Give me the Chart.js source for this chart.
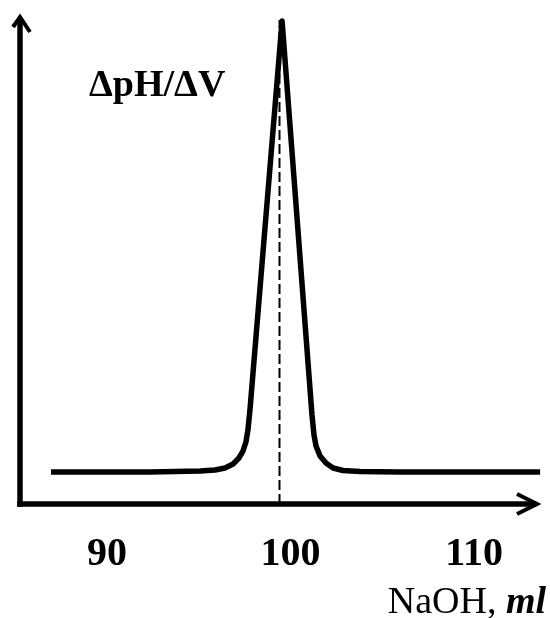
<!DOCTYPE html>
<html>
<head>
<meta charset="utf-8">
<script src="https://cdn.jsdelivr.net/npm/chart.js@4/dist/chart.umd.min.js"></script>
<style>
  html, body { margin: 0; padding: 0; background: #ffffff; }
  #wrap { width: 550px; height: 618px; position: relative; }
</style>
</head>
<body>
<div id="wrap"><canvas id="c"></canvas></div>
<script>
// NaOH volume (ml) and ΔpH/ΔV (relative units)
const volume = [86.95, 92.34, 95.07, 95.89, 96.43, 96.87, 97.19, 97.41, 97.57, 97.68, 97.79, 99.54,
                101.17, 101.28, 101.39, 101.61, 101.93, 102.32, 102.86, 103.79, 105.97, 111.42, 113.6];
const dpHdV  = [6.57, 6.57, 6.78, 6.98, 7.39, 8.21, 9.45, 10.88, 12.73, 15.2, 19.3, 99.2,
                18.28, 14.17, 11.91, 9.86, 8.42, 7.39, 6.88, 6.67, 6.57, 6.57, 6.57];
const equivalenceVolume = 99.4;
const equivalenceTop = 99.4;
const xTicks = [90, 100, 110];
const yLabel = 'ΔpH/ΔV';
const xLabelMain = 'NaOH, ';
const xLabelUnit = 'ml';

const curve = volume.map((v, i) => ({ x: v, y: dpHdV[i] }));
const dashed = [{ x: equivalenceVolume, y: 0 }, { x: equivalenceVolume, y: equivalenceTop }];

const axesPlugin = {
  id: 'axesArrows',
  afterDatasetsDraw(chart) {
    const ctx = chart.ctx;
    const a = chart.chartArea;
    ctx.save();
    ctx.strokeStyle = '#000';
    ctx.fillStyle = '#000';
    ctx.lineCap = 'butt';
    ctx.lineWidth = 5.5;
    // y axis
    ctx.beginPath();
    ctx.moveTo(a.left, a.bottom + 2.75);
    ctx.lineTo(a.left, a.top + 2);
    ctx.stroke();
    // x axis
    ctx.beginPath();
    ctx.moveTo(a.left - 2.75, a.bottom);
    ctx.lineTo(a.right - 14, a.bottom);
    ctx.stroke();
    // x arrow head
    ctx.lineWidth = 4;
    ctx.lineJoin = 'miter';
    ctx.beginPath();
    ctx.moveTo(a.right - 31, a.bottom - 10);
    ctx.lineTo(a.right - 11, a.bottom);
    ctx.lineTo(a.right - 31, a.bottom + 10);
    ctx.stroke();
    // y arrow head
    ctx.beginPath();
    ctx.moveTo(a.left - 7, a.top + 10);
    ctx.lineTo(a.left, a.top);
    ctx.lineTo(a.left + 10, a.top + 15);
    ctx.stroke();

    // texts
    ctx.textBaseline = 'alphabetic';
    ctx.textAlign = 'left';
    ctx.font = 'bold 38px "Liberation Serif"';
    ctx.fillText(yLabel, 89, 96);

    ctx.font = '38px "Liberation Serif"';
    const w1 = ctx.measureText(xLabelMain).width;
    ctx.font = 'bold italic 38px "Liberation Serif"';
    const w2 = ctx.measureText(xLabelUnit).width;
    const right = 546;
    const base = 613;
    ctx.font = '38px "Liberation Serif"';
    ctx.fillText(xLabelMain, right - w1 - w2, base);
    ctx.font = 'bold italic 38px "Liberation Serif"';
    ctx.fillText(xLabelUnit, right - w2, base);
    ctx.restore();
  }
};

new Chart(document.getElementById('c'), {
  type: 'line',
  data: {
    datasets: [
      {
        data: curve,
        borderColor: '#000',
        borderWidth: 5.5,
        pointRadius: 0,
        tension: 0,
        borderJoinStyle: 'round',
        fill: false,
        clip: false
      },
      {
        data: dashed,
        borderColor: '#000',
        borderWidth: 2,
        borderDash: [10, 4],
        pointRadius: 0,
        fill: false,
        clip: false
      }
    ]
  },
  options: {
    responsive: true,
    maintainAspectRatio: false,
    animation: false,
    events: [],
    layout: { padding: { top: 17, left: 20, right: 2, bottom: 0 } },
    plugins: { legend: { display: false }, tooltip: { enabled: false } },
    scales: {
      x: {
        type: 'linear',
        min: 85.26,
        max: 114.03,
        grid: { display: false, drawTicks: false },
        border: { display: false },
        afterBuildTicks(scale) { scale.ticks = xTicks.map(v => ({ value: v })); },
        afterFit(scale) { scale.height = 114; },
        ticks: {
          padding: 27,
          color: '#000',
          maxRotation: 0,
          autoSkip: false,
          font: { family: '"Liberation Serif"', size: 40, weight: 'bold' }
        }
      },
      y: {
        display: false,
        min: 0,
        max: 100
      }
    }
  },
  plugins: [axesPlugin]
});
</script>
</body>
</html>
